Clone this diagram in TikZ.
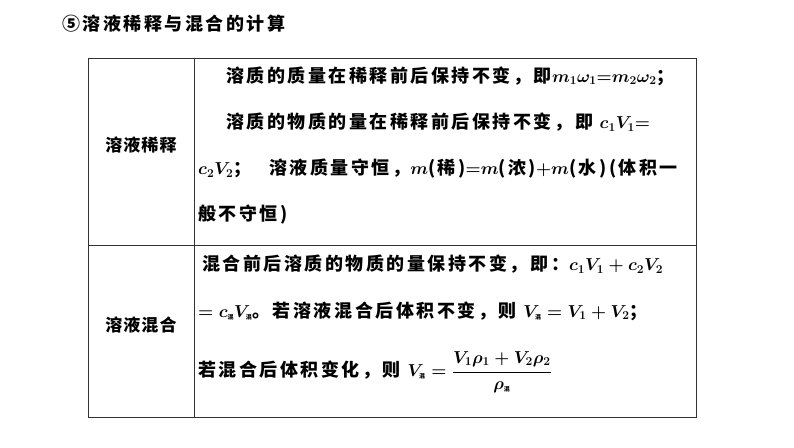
\documentclass[tikz,border=0pt]{standalone}
\usepackage{fontspec}
\setmainfont{Noto Sans CJK SC}
\usepackage{amsmath}
\newcommand\hunsub{\mbox{\fontsize{6}{6}\selectfont\bfseries 混}}

\begin{document}
\begin{tikzpicture}[x=1pt, y=-1pt,
  txt/.style={anchor=west, inner sep=0pt, font=\fontsize{18}{20}\selectfont\bfseries\boldmath\addfontfeature{LetterSpace=14}},
  head/.style={inner sep=0pt, font=\fontsize{17}{19}\selectfont\bfseries\addfontfeature{LetterSpace=6}},
  grid/.style={line width=0.9pt, draw=black!80}]
\useasboundingbox (0,0) rectangle (794,447);

  % table frame
  \draw [grid] (88,58) rectangle (696,417);
  \draw [grid] (194,58) -- (194,417);
  \draw [grid] (88,245) -- (696,245);

  % title
  \node [txt] (title) at (62,24) {⑤溶液稀释与混合的计算};

  % left column
  \node [head] (dilute) at (141,145) {溶液稀释};
  \node [head] (mix) at (141,325) {溶液混合};

  % dilution rows
  \node [txt] (d1) at (226,76) {溶质的质量在稀释前后保持不变，即$m_1\omega_1{=}m_2\omega_2$；};
  \node [txt] (d2) at (226,122) {溶质的物质的量在稀释前后保持不变，即 $c_1V_1{=}$};
  \node [txt] (d3) at (198,169) {$c_2V_2$；\quad 溶液质量守恒，$m$(稀)$=$$m$(浓)$+$$m$(水)(体积一};
  \node [txt] (d4) at (198,215) {般不守恒)};

  % mixing rows
  \node [txt] (m1) at (202,264) {混合前后溶质的物质的量保持不变，即：$c_1V_1+c_2V_2$};
  \node [txt] (m2) at (198,311) {$=c_{\hunsub}V_{\hunsub}$。若溶液混合后体积不变，则 $V_{\hunsub}=V_1+V_2$；};
  \node [txt] (m3) at (198,372) {若混合后体积变化，则 $V_{\hunsub}=\dfrac{V_1\rho_1+V_2\rho_2}{\rho_{\hunsub}}$};
\end{tikzpicture}
\end{document}
